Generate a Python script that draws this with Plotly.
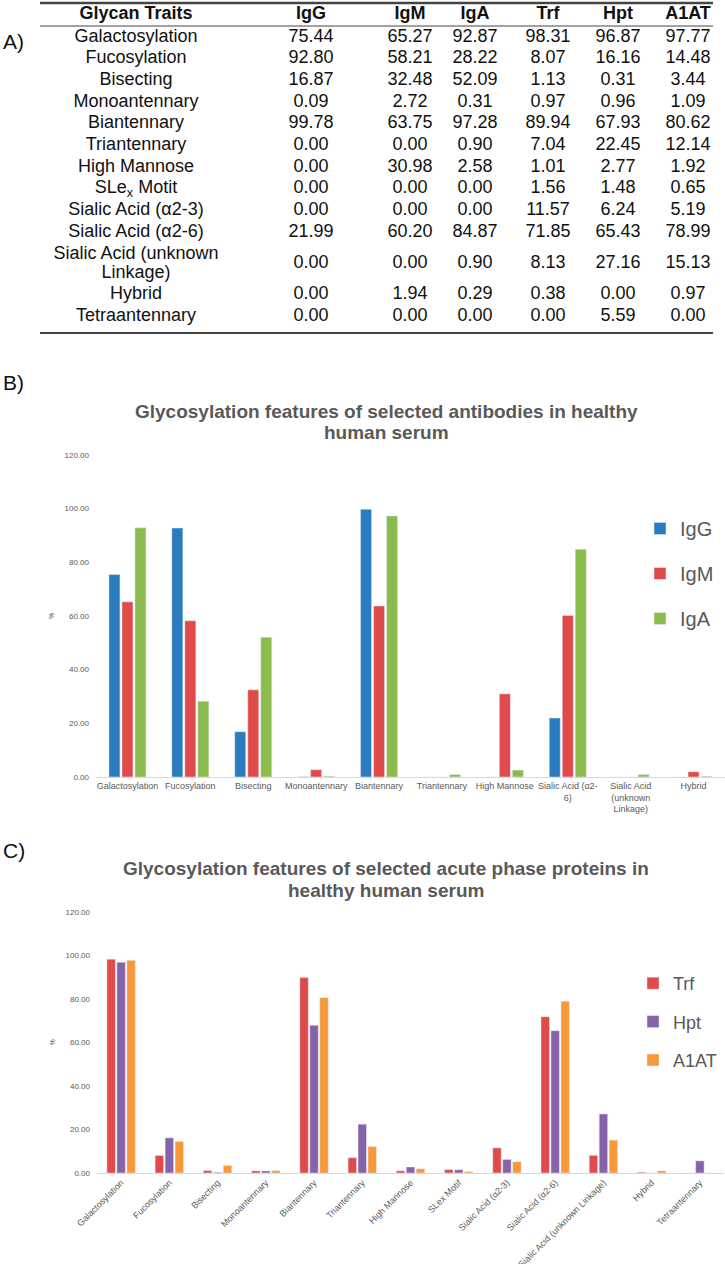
import plotly.graph_objects as go

W, H = 725, 1264

# ---- data (Table A) ----
traits = ["Galactosylation", "Fucosylation", "Bisecting", "Monoantennary", "Biantennary",
          "Triantennary", "High Mannose", "SLe<sub>x</sub> Motit", "Sialic Acid (α2-3)",
          "Sialic Acid (α2-6)", "Sialic Acid (unknown<br>Linkage)", "Hybrid", "Tetraantennary"]
igg = [75.44, 92.80, 16.87, 0.09, 99.78, 0.00, 0.00, 0.00, 0.00, 21.99, 0.00, 0.00, 0.00]
igm = [65.27, 58.21, 32.48, 2.72, 63.75, 0.00, 30.98, 0.00, 0.00, 60.20, 0.00, 1.94, 0.00]
iga = [92.87, 28.22, 52.09, 0.31, 97.28, 0.90, 2.58, 0.00, 0.00, 84.87, 0.90, 0.29, 0.00]
trf = [98.31, 8.07, 1.13, 0.97, 89.94, 7.04, 1.01, 1.56, 11.57, 71.85, 8.13, 0.38, 0.00]
hpt = [96.87, 16.16, 0.31, 0.96, 67.93, 22.45, 2.77, 1.48, 6.24, 65.43, 27.16, 0.00, 5.59]
a1at = [97.77, 14.48, 3.44, 1.09, 80.62, 12.14, 1.92, 0.65, 5.19, 78.99, 15.13, 0.97, 0.00]
proteins = ["IgG", "IgM", "IgA", "Trf", "Hpt", "A1AT"]

# ---- chart B (antibodies) ----
b_rows = [0, 1, 2, 3, 4, 5, 6, 9, 10, 11]
b_labels = ["Galactosylation", "Fucosylation", "Bisecting", "Monoantennary", "Biantennary",
            "Triantennary", "High Mannose", "Sialic Acid (α2-<br>6)",
            "Sialic Acid<br>(unknown<br>Linkage)", "Hybrid"]

# ---- chart C (acute phase proteins) ----
c_labels = ["Galactosylation", "Fucosylation", "Bisecting", "Monoantennary", "Biantennary",
            "Triantennary", "High Mannose", "SLex Motif", "Sialic Acid (α2-3)",
            "Sialic Acid (α2-6)", "Sialic Acid (unknown Linkage)", "Hybrid", "Tetraantennary"]

colors = {"IgG": "#2b7bbf", "IgM": "#df4b4a", "IgA": "#8bbb4d",
          "Trf": "#df4b4a", "Hpt": "#8662a8", "A1AT": "#f7983b"}
series = {"IgG": igg, "IgM": igm, "IgA": iga, "Trf": trf, "Hpt": hpt, "A1AT": a1at}

GRAY = "#595959"
FONT = "Liberation Sans, Arial, sans-serif"


def fy(py):
    return 1 - py / H


fig = go.Figure()

# bars B
for p in ["IgG", "IgM", "IgA"]:
    fig.add_trace(go.Bar(x=b_labels, y=[series[p][i] for i in b_rows], name=p,
                         marker_color=colors[p], xaxis="x", yaxis="y",
                         legend="legend", legendgroup=p))
# bars C
for p in ["Trf", "Hpt", "A1AT"]:
    fig.add_trace(go.Bar(x=c_labels, y=series[p], name=p,
                         marker_color=colors[p], xaxis="x2", yaxis="y2",
                         legend="legend2", legendgroup=p))

# table A as text marks
col_x = [136, 311, 410, 475, 548, 618, 688]
ROW, LINE = 21.7, 19
row_y = []
extra = 0
for t in traits:
    n = t.count("<br>")
    row_y.append(37 + ROW * len(row_y) + LINE * extra + LINE / 2 * n)
    extra += n

lab_x, lab_y, lab_t = [], [], []
for y, t in zip(row_y, traits):
    parts = t.split("<br>")
    for k, part in enumerate(parts):
        lab_x.append(col_x[0])
        lab_y.append(y + (k - (len(parts) - 1) / 2) * LINE)
        lab_t.append(part)
tfont = dict(size=18, family=FONT, color="#111111")
fig.add_trace(go.Scatter(x=lab_x, y=lab_y, text=lab_t, mode="text", textfont=tfont,
                         xaxis="x3", yaxis="y3", showlegend=False, hoverinfo="skip"))
for j, p in enumerate(proteins):
    fig.add_trace(go.Scatter(x=[col_x[j + 1]] * len(row_y), y=row_y,
                             text=["%.2f" % v for v in series[p]], mode="text",
                             textfont=tfont, xaxis="x3", yaxis="y3",
                             showlegend=False, hoverinfo="skip"))
fig.add_trace(go.Scatter(x=col_x, y=[14] * len(col_x),
                         text=["<b>%s</b>" % s for s in ["Glycan Traits"] + proteins],
                         mode="text", textfont=tfont, xaxis="x3", yaxis="y3",
                         showlegend=False, hoverinfo="skip"))

tick_font = dict(size=9, color=GRAY, family=FONT)
ytick_font = dict(size=8, color=GRAY, family=FONT)
yax = dict(range=[0, 120], tickvals=[0, 20, 40, 60, 80, 100, 120], tickformat=".2f",
           showgrid=False, zeroline=False, showline=False, ticks="", automargin=False,
           ticklabelstandoff=6,
           tickfont=ytick_font, title=dict(text="%", font=dict(size=8, color=GRAY), standoff=8))
xax = dict(showgrid=False, showline=True, linecolor="#d9d9d9", linewidth=1, ticks="",
           tickfont=tick_font, type="category", automargin=False)

fig.update_layout(
    width=W, height=H, margin=dict(l=0, r=0, t=0, b=0, autoexpand=False),
    plot_bgcolor="white", paper_bgcolor="white",
    barmode="group", bargap=0.38, bargroupgap=0.15,
    xaxis=dict(xax, domain=[96 / W, 1], anchor="y", tickangle=0),
    yaxis=dict(yax, domain=[fy(777), fy(455)], anchor="x"),
    xaxis2=dict(xax, domain=[97 / W, 724 / W], anchor="y2", tickangle=-45),
    yaxis2=dict(yax, domain=[fy(1173), fy(912)], anchor="x2"),
    xaxis3=dict(domain=[0, 1], range=[0, W], visible=False, anchor="y3", automargin=False),
    yaxis3=dict(domain=[fy(340), 1], range=[340, 0], visible=False, anchor="x3", automargin=False),
    legend=dict(x=640 / W, y=fy(509), xanchor="left", yanchor="top",
                font=dict(size=20, color=GRAY, family=FONT), tracegroupgap=16,
                bgcolor="rgba(0,0,0,0)", itemclick=False),
    legend2=dict(x=633 / W, y=fy(965), xanchor="left", yanchor="top",
                 font=dict(size=18, color=GRAY, family=FONT), tracegroupgap=12,
                 bgcolor="rgba(0,0,0,0)", itemclick=False),
    showlegend=True,
)

# table rules
for y, w in [(3, 2.5), (26, 1), (333, 2)]:
    fig.add_shape(type="line", xref="paper", yref="paper", x0=40 / W, x1=713 / W,
                  y0=fy(y), y1=fy(y), line=dict(color="#444444", width=w))

# titles and panel letters
title_font = dict(size=19, color=GRAY, family=FONT)
titles = [("Glycosylation features of selected antibodies in healthy", 412),
          ("human serum", 433),
          ("Glycosylation features of selected acute phase proteins in", 868),
          ("healthy human serum", 890)]
for txt, y in titles:
    fig.add_annotation(x=386 / W, y=fy(y), xref="paper", yref="paper", showarrow=False,
                       xanchor="center", yanchor="middle",
                       text="<b>%s</b>" % txt, font=title_font)
for txt, y in [("A)", 42), ("B)", 383), ("C)", 850)]:
    fig.add_annotation(x=1 / W, y=fy(y), xref="paper", yref="paper", showarrow=False,
                       xanchor="left", yanchor="middle", text=txt,
                       font=dict(size=21, color="#111111", family=FONT))

fig.write_html("out.html", config={"displayModeBar": False},
               post_script="document.body.style.margin='0';")
